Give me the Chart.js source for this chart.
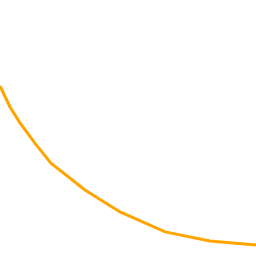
<!DOCTYPE html>
<html>
<head>
<meta charset="utf-8">
<script src="https://cdn.jsdelivr.net/npm/chart.js@4"></script>
<style>
  html, body { margin: 0; padding: 0; background: #ffffff; }
  #wrap { width: 256px; height: 256px; }
</style>
</head>
<body>
<div id="wrap"><canvas id="myChart" width="256" height="256"></canvas></div>
<script>
// valores (x en %, y en %)
const xValues = [0, 3.9, 7.8, 13.7, 19.9, 33.2, 46.9, 64.5, 82, 100];
const yValues = [66.4, 58.2, 52, 44, 36.3, 25.8, 17.2, 9.4, 5.9, 4.3];

const points = xValues.map((x, i) => {
    return { x: x, y: yValues[i] };
});

const config = {
    type: "line",
    data: {
        datasets: [
            {
                data: points,
                borderColor: "#ffa500",
                borderWidth: 3,
                pointRadius: 0,
                tension: 0,
                fill: false,
            },
        ],
    },
    options: {
        responsive: false,
        animation: false,
        layout: { padding: 0 },
        plugins: { legend: { display: false }, tooltip: { enabled: false } },
        scales: {
            x: { type: "linear", min: 0, max: 100, display: false },
            y: { type: "linear", min: 0, max: 100, display: false },
        },
    },
};

const myChart = document.querySelector("#myChart");
myChart.chart = new Chart(myChart, config);
</script>
</body>
</html>
